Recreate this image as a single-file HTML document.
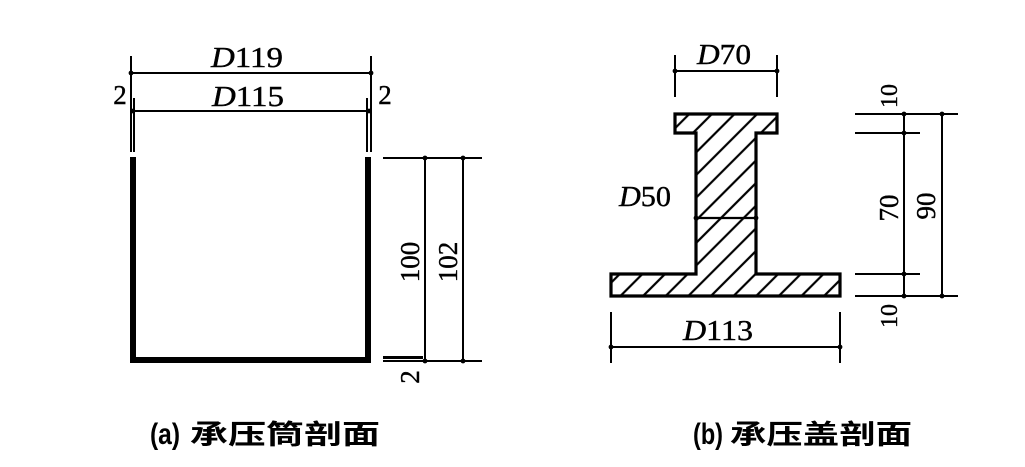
<!DOCTYPE html>
<html><head><meta charset="utf-8"><style>
html,body{margin:0;padding:0;background:#fff}
svg{display:block}
text{font-family:"Liberation Serif","Noto Serif CJK SC",serif;fill:#000;stroke:#000;stroke-width:0.4}
.cap{font-family:"Liberation Sans","Noto Sans CJK SC",sans-serif;font-weight:bold;stroke:none}
</style></head><body>
<svg width="1025" height="467" viewBox="0 0 1025 467" xmlns="http://www.w3.org/2000/svg">
<defs>
<pattern id="h" patternUnits="userSpaceOnUse" width="16" height="16" patternTransform="rotate(45)">
<line x1="8" y1="-2" x2="8" y2="18" stroke="#000" stroke-width="2.2"/>
</pattern>
</defs>
<g stroke="#000" fill="none" stroke-width="2">
<line x1="131" y1="56" x2="131" y2="152"/>
<line x1="371" y1="56" x2="371" y2="152"/>
<line x1="134" y1="98" x2="134" y2="152"/>
<line x1="367" y1="98" x2="367" y2="152"/>
<line x1="131" y1="73" x2="371" y2="73"/>
<line x1="131" y1="111" x2="371" y2="111"/>
<line x1="383" y1="158" x2="482" y2="158"/>
<line x1="383" y1="361" x2="482" y2="361"/>
<line x1="425" y1="158" x2="425" y2="363"/>
<line x1="463" y1="158" x2="463" y2="363"/>
</g>
<g fill="#000">
<rect x="130" y="157" width="6" height="206"/>
<rect x="365" y="157" width="6" height="206"/>
<rect x="130" y="357" width="241" height="6"/>
<rect x="383" y="356" width="40" height="3"/>
<circle cx="131" cy="73" r="2.4"/><circle cx="371" cy="73" r="2.4"/>
<circle cx="133" cy="111" r="2.4"/><circle cx="369" cy="111" r="2.4"/>
<circle cx="425" cy="158" r="2.4"/><circle cx="463" cy="158" r="2.4"/>
<circle cx="425" cy="361" r="2.4"/><circle cx="463" cy="361" r="2.4"/>
</g>
<text x="211" y="67" font-size="28" textLength="72" lengthAdjust="spacingAndGlyphs"><tspan font-style="italic">D</tspan>119</text>
<text x="212" y="106" font-size="28" textLength="72" lengthAdjust="spacingAndGlyphs"><tspan font-style="italic">D</tspan>115</text>
<text x="120" y="104" font-size="27" text-anchor="middle">2</text>
<text x="385" y="104" font-size="27" text-anchor="middle">2</text>
<text transform="translate(419,262) rotate(-90)" font-size="27" text-anchor="middle">100</text>
<text transform="translate(457,262) rotate(-90)" font-size="27" text-anchor="middle">102</text>
<text transform="translate(419,377) rotate(-90)" font-size="27" text-anchor="middle">2</text>

<path d="M675,114 H777 V133 H756 V274 H840 V296 H611 V274 H696 V133 H675 Z" fill="url(#h)" stroke="#000" stroke-width="3.2"/>
<line x1="696" y1="218" x2="756" y2="218" stroke="#000" stroke-width="2.2"/>
<g stroke="#000" fill="none" stroke-width="2">
<line x1="675" y1="55" x2="675" y2="97"/>
<line x1="777" y1="55" x2="777" y2="97"/>
<line x1="675" y1="71" x2="777" y2="71"/>
<line x1="611" y1="312" x2="611" y2="363"/>
<line x1="840" y1="312" x2="840" y2="363"/>
<line x1="611" y1="347" x2="840" y2="347"/>
<line x1="855" y1="114" x2="958" y2="114"/>
<line x1="855" y1="133" x2="920" y2="133"/>
<line x1="855" y1="274" x2="920" y2="274"/>
<line x1="855" y1="296" x2="958" y2="296"/>
<line x1="904" y1="114" x2="904" y2="298"/>
<line x1="942" y1="114" x2="942" y2="298"/>
</g>
<g fill="#000">
<circle cx="675" cy="71" r="2.4"/><circle cx="777" cy="71" r="2.4"/>
<circle cx="611" cy="347" r="2.4"/><circle cx="840" cy="347" r="2.4"/>
<circle cx="904" cy="114" r="2.4"/><circle cx="904" cy="133" r="2.4"/>
<circle cx="904" cy="274" r="2.4"/><circle cx="904" cy="296" r="2.4"/>
<circle cx="942" cy="114" r="2.4"/><circle cx="942" cy="296" r="2.4"/>
<circle cx="696" cy="218" r="2.4"/><circle cx="756" cy="218" r="2.4"/>
</g>
<text x="697" y="64" font-size="28" textLength="54" lengthAdjust="spacingAndGlyphs"><tspan font-style="italic">D</tspan>70</text>
<text x="619" y="206" font-size="28" textLength="52" lengthAdjust="spacingAndGlyphs"><tspan font-style="italic">D</tspan>50</text>
<text x="683" y="340" font-size="28" textLength="70" lengthAdjust="spacingAndGlyphs"><tspan font-style="italic">D</tspan>113</text>
<text transform="translate(897,96) rotate(-90)" font-size="24" text-anchor="middle">10</text>
<text transform="translate(898,208) rotate(-90)" font-size="27" text-anchor="middle">70</text>
<text transform="translate(935,206) rotate(-90)" font-size="27" text-anchor="middle">90</text>
<text transform="translate(897,316) rotate(-90)" font-size="24" text-anchor="middle">10</text>

<text class="cap" x="150" y="444" font-size="30" textLength="30" lengthAdjust="spacingAndGlyphs">(a)</text>
<text class="cap" x="190" y="444" font-size="27" textLength="190" lengthAdjust="spacingAndGlyphs">承压筒剖面</text>
<text class="cap" x="693" y="444" font-size="30" textLength="30" lengthAdjust="spacingAndGlyphs">(b)</text>
<text class="cap" x="730" y="444" font-size="27" textLength="182" lengthAdjust="spacingAndGlyphs">承压盖剖面</text>
</svg>
</body></html>
